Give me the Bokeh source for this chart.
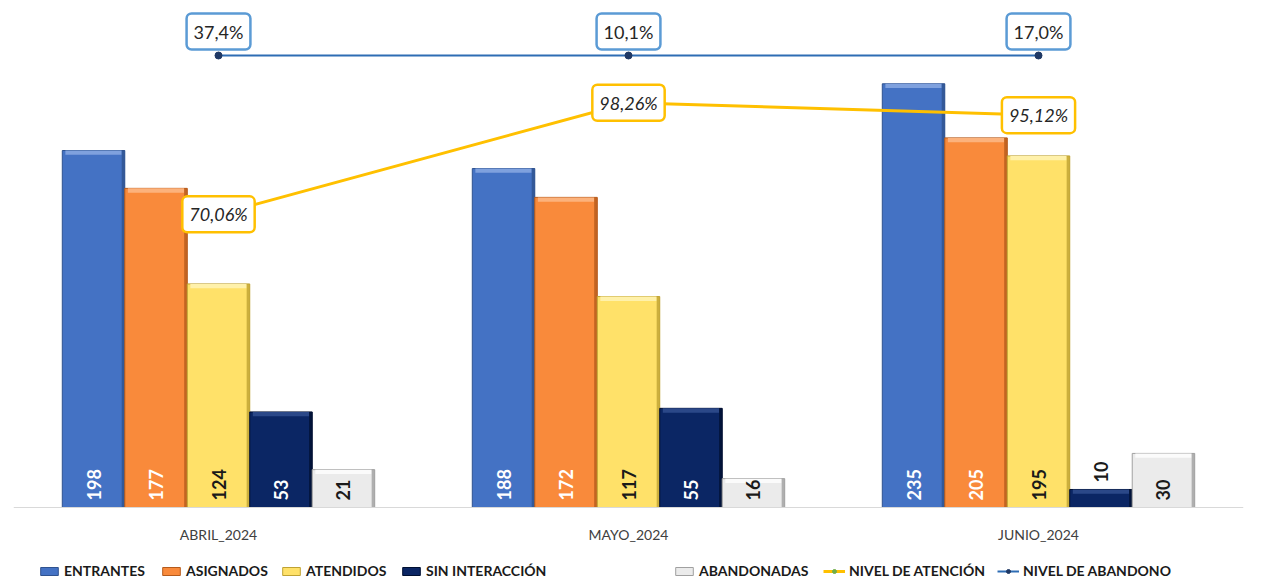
import math
from bokeh.plotting import figure
from bokeh.models import (ColumnDataSource, FactorRange, Range1d, Label, LabelSet,
                          Legend, LegendItem)
from bokeh.transform import dodge
from bokeh.core.properties import value
from bokeh.embed import file_html
from bokeh.resources import INLINE

# ---------------- data ----------------
months = ["ABRIL_2024", "MAYO_2024", "JUNIO_2024"]
series_names = ["ENTRANTES", "ASIGNADOS", "ATENDIDOS", "SIN INTERACCIÓN", "ABANDONADAS"]
entrantes = [198, 188, 235]
asignados = [177, 172, 205]
atendidos = [124, 117, 195]
sin_interaccion = [53, 55, 10]
abandonadas = [21, 16, 30]
nivel_atencion = [70.06, 98.26, 95.12]      # %
nivel_abandono = [37.4, 10.1, 17.0]         # %
line_names = ["NIVEL DE ATENCIÓN", "NIVEL DE ABANDONO"]

# ---------------- style / layout ----------------
FONT = "Lato"
W, H = 1266, 579
PX_PER_UNIT = 1.803              # vertical scale of the bar axis
BASE_PX = 507                    # pixel row of the bar baseline
Y_MAX = BASE_PX / PX_PER_UNIT
Y_MIN = -(H - BASE_PX) / PX_PER_UNIT
BW = 0.1524                      # bar width in category units
BEVEL = 2.4                      # top highlight height (y units)
EDGE = 0.0075                    # right dark edge width (x units)
ROW_Y = (H - 55) / H             # vertical position of the abandon row (fraction of frame)
OUTSIDE_LABEL_COLOR = "#1A1A1A"

styles = [
    # main, light, dark, label colour
    ("#4472C4", "#7FA1DE", "#2F528F", "white"),
    ("#F98A3B", "#FCB27C", "#B55A1B", "white"),
    ("#FFE169", "#FFF1AA", "#BFA232", "#1A1A1A"),
    ("#0B2664", "#2B4888", "#000F30", "white"),
    ("#EBEBEB", "#FBFBFB", "#A0A0A0", "#1A1A1A"),
]
series_vals = [entrantes, asignados, atendidos, sin_interaccion, abandonadas]

p = figure(x_range=FactorRange(factors=months, range_padding=0),
           y_range=Range1d(Y_MIN, Y_MAX),
           width=W, height=H, output_backend="svg", toolbar_location=None,
           y_axis_location=None,
           min_border_left=13, min_border_right=23, min_border_top=0,
           min_border_bottom=0)
p.extra_y_ranges = {"pct": Range1d(-22.2, 124.1), "row": Range1d(0, 1)}
p.xgrid.visible = False
p.ygrid.visible = False
p.outline_line_color = None
p.background_fill_color = "white"

ax = p.xaxis[0]
ax.fixed_location = 0
ax.axis_line_color = "#D9D9D9"
ax.axis_line_width = 1
ax.major_tick_line_color = None
ax.minor_tick_line_color = None
ax.major_label_text_font = FONT
ax.major_label_text_font_size = "14px"
ax.major_label_text_color = "#404040"
ax.major_label_standoff = 12

legend_items = []
for k, (name, vals, (main, light, dark, tcol)) in enumerate(zip(series_names, series_vals, styles)):
    off = (k - 2) * BW
    inside = [v * PX_PER_UNIT > 28 for v in vals]
    src = ColumnDataSource(dict(month=months, v=vals,
                                vb=[v - BEVEL for v in vals],
                                lab_y=[0 if ins else v for ins, v in zip(inside, vals)],
                                lab_c=[tcol if ins else OUTSIDE_LABEL_COLOR for ins in inside],
                                txt=[str(v) for v in vals]))
    xd = dodge("month", off, range=p.x_range)
    r = p.vbar(x=xd, top="v", bottom=0, width=BW, source=src,
               fill_color=main, line_color=dark, line_width=1)
    # bevel: top highlight and right dark edge
    p.vbar(x=xd, top="v", bottom="vb", width=BW - 2 * EDGE, source=src,
           fill_color=light, line_color=None)
    p.vbar(x=dodge("month", off + BW / 2 - EDGE / 2, range=p.x_range), top="v", bottom=0,
           width=EDGE, source=src, fill_color=dark, line_color=None, fill_alpha=0.8)
    labels = LabelSet(x=xd, y="lab_y", text="txt", source=src,
                      angle=math.pi / 2, text_align="left", text_baseline="middle",
                      y_offset=7, text_font=value(FONT), text_font_style="bold",
                      text_font_size="18px", text_color="lab_c")
    p.add_layout(labels)
    legend_items.append(LegendItem(label=name, renderers=[r]))

# synthetic category centres of the factor range (for Label annotations)
month_center = {m: i + 0.5 for i, m in enumerate(months)}

# NIVEL DE ATENCIÓN line
src_at = ColumnDataSource(dict(month=months, v=nivel_atencion))
la = p.line("month", "v", source=src_at, y_range_name="pct",
            line_color="#FFC000", line_width=3)
sa = p.scatter("month", "v", source=src_at, y_range_name="pct", size=7,
               fill_color="#70AD47", line_color="#70AD47")
legend_items.append(LegendItem(label=line_names[0], renderers=[la, sa]))
for m, v in zip(months, nivel_atencion):
    p.add_layout(Label(x=month_center[m], y=v, y_range_name="pct",
                       text=f"{v:.2f}".replace(".", ",") + "%",
                       text_align="center", text_baseline="middle",
                       text_font=FONT, text_font_size="18px", text_font_style="italic",
                       text_color="#262626", background_fill_color="white",
                       border_line_color="#FFC000", border_line_width=2.5,
                       padding=7, border_radius=5))

# NIVEL DE ABANDONO row
src_ab = ColumnDataSource(dict(month=months, row=[ROW_Y] * len(months), v=nivel_abandono))
lb = p.line("month", "row", source=src_ab, y_range_name="row",
            line_color="#2E6DB4", line_width=2)
sb = p.scatter("month", "row", source=src_ab, y_range_name="row", size=7,
               fill_color="#1F3864", line_color="#1F3864")
legend_items.append(LegendItem(label=line_names[1], renderers=[lb, sb]))
for m, v in zip(months, nivel_abandono):
    p.add_layout(Label(x=month_center[m], y=ROW_Y, y_range_name="row", y_offset=24,
                       text=f"{v:.1f}".replace(".", ",") + "%",
                       text_align="center", text_baseline="middle",
                       text_font=FONT, text_font_size="18px",
                       text_color="#262626", background_fill_color="white",
                       border_line_color="#5B9BD5", border_line_width=2.5,
                       padding=7, border_radius=5))

# legend: one box per entry so their positions follow the reference
LEGEND_X = [38, 160, 280, 400, 673, 823, 997]
for item, lx in zip(legend_items, LEGEND_X):
    lg = Legend(items=[item], location=(lx - 13, 0), orientation="horizontal",
                background_fill_alpha=0, border_line_color=None,
                padding=0, margin=0, spacing=0, glyph_width=22, glyph_height=10,
                label_height=14, label_standoff=4, label_text_font=FONT,
                label_text_font_size="14px", label_text_font_style="bold",
                label_text_color="#1A1A1A")
    p.add_layout(lg, "center")

open("out.html", "w").write(file_html(p, INLINE))
